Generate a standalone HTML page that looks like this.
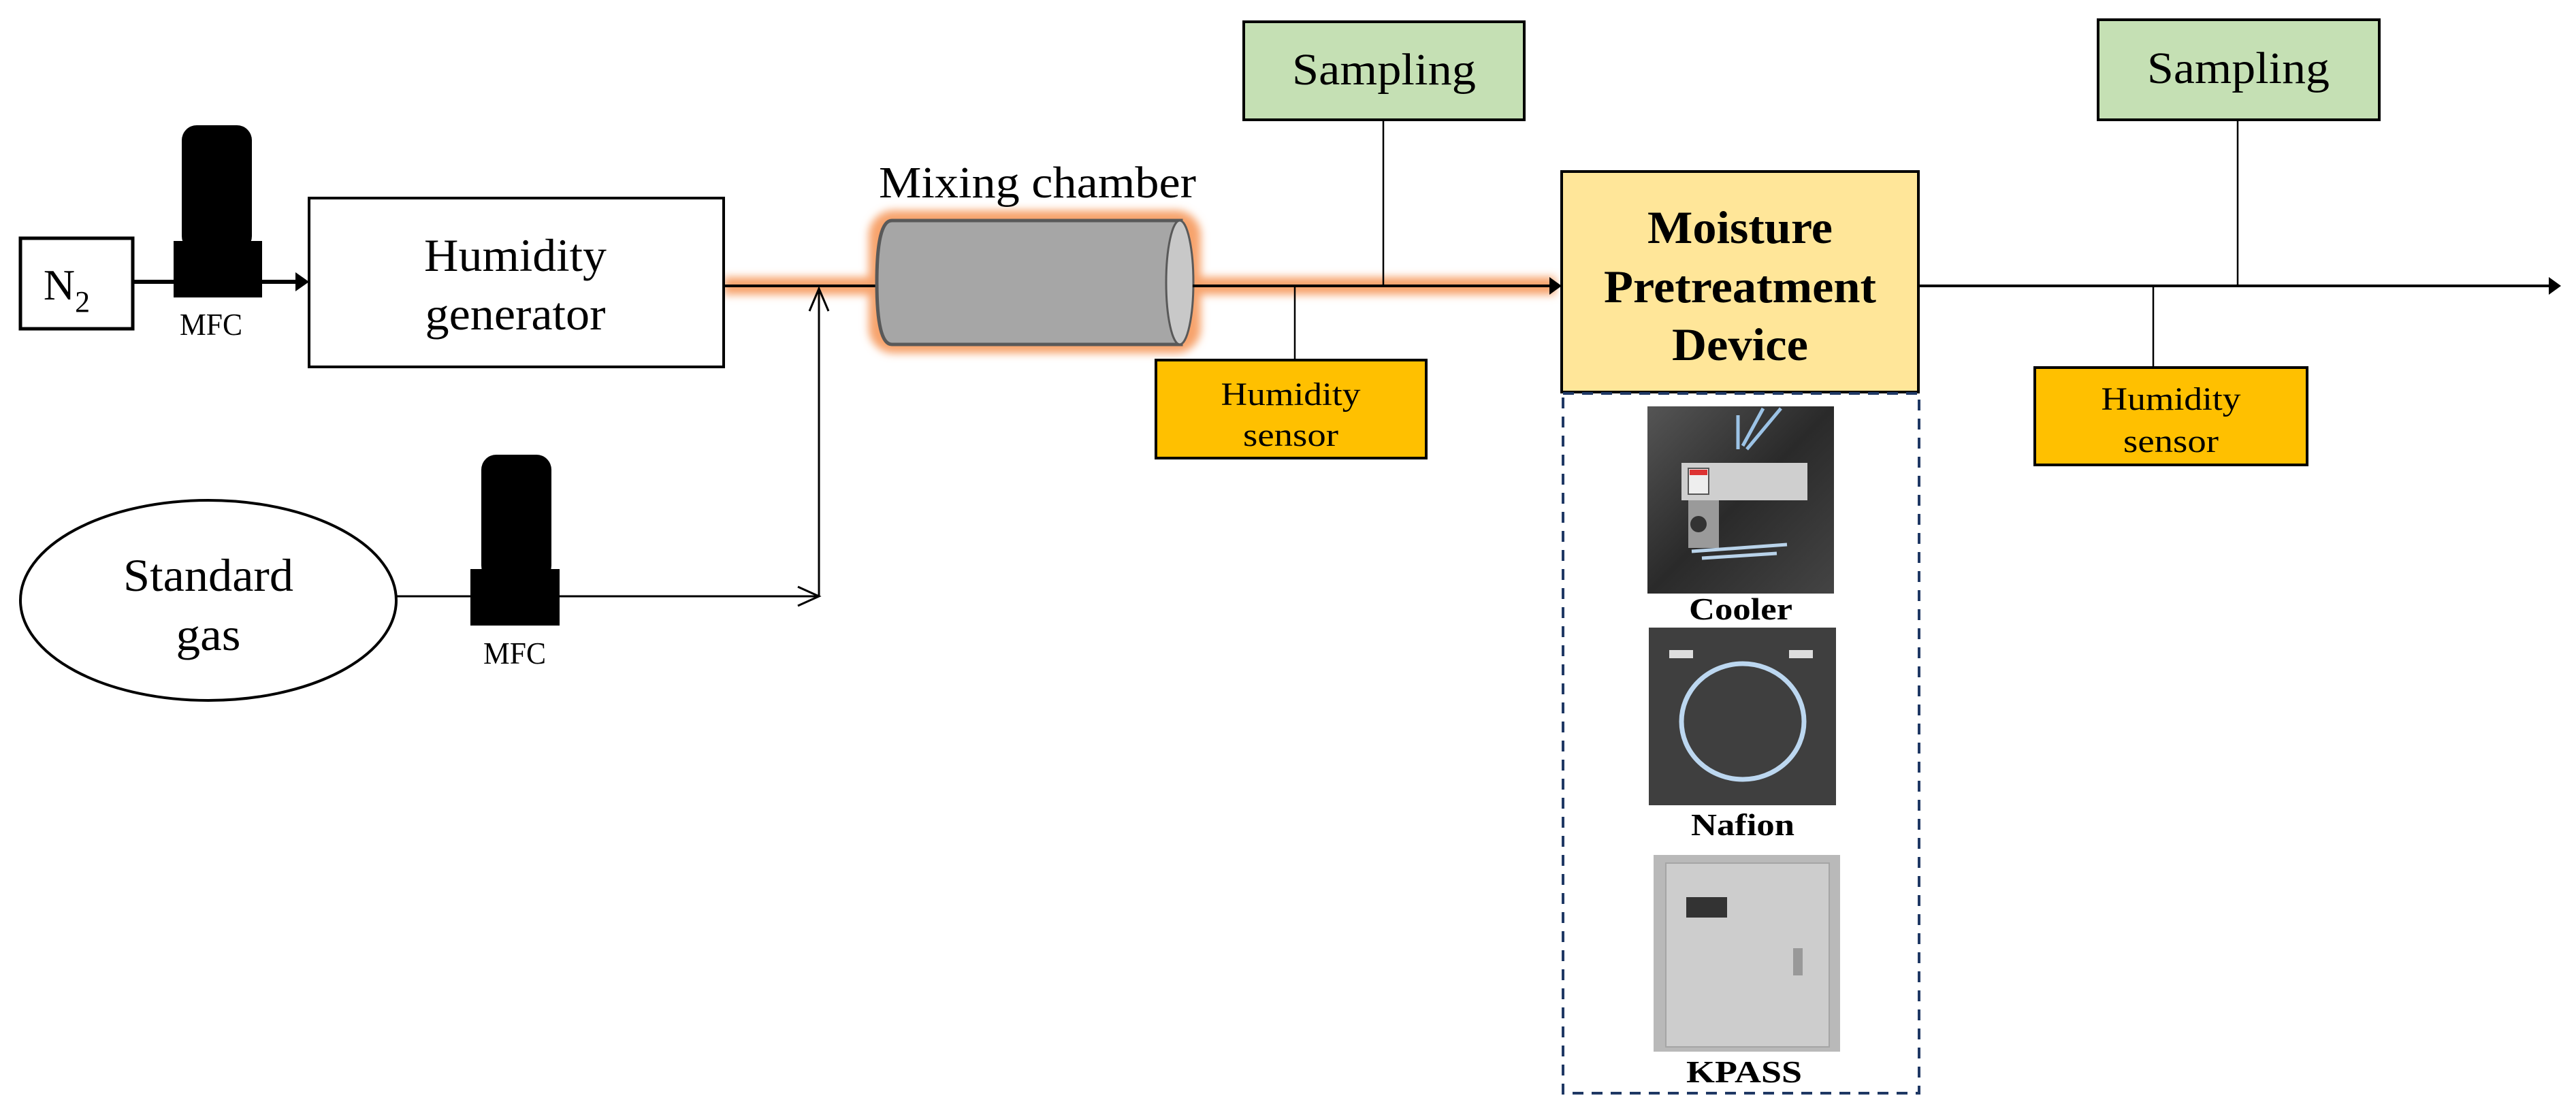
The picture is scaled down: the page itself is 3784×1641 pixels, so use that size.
<!DOCTYPE html>
<html><head><meta charset="utf-8"><style>html,body{margin:0;padding:0;background:#fff}svg{display:block}text{font-family:"Liberation Serif","Times New Roman",serif}</style></head>
<body>
<svg width="3784" height="1641" viewBox="0 0 3784 1641" xmlns="http://www.w3.org/2000/svg">
<defs>
<filter id="glow" x="-20%" y="-50%" width="140%" height="200%"><feGaussianBlur stdDeviation="6"/></filter>
<linearGradient id="ph1" x1="0" y1="0" x2="1" y2="1"><stop offset="0" stop-color="#555"/><stop offset="0.5" stop-color="#2a2a2a"/><stop offset="1" stop-color="#444"/></linearGradient>
</defs>
<rect width="3784" height="1641" fill="#fff"/>

<g filter="url(#glow)" fill="none" stroke="#f7a36c">
<line x1="1063" y1="420" x2="1290" y2="420" stroke-width="26"/>
<rect x="1283" y="316" width="474" height="196" rx="30" stroke-width="14" fill="#f7a36c"/>
<line x1="1750" y1="420" x2="2285" y2="420" stroke-width="26"/>
</g>

<rect x="30" y="350" width="165" height="133" fill="#fff" stroke="#000" stroke-width="5"/>
<text x="98" y="440" font-size="64" text-anchor="middle">N<tspan font-size="44" dy="18">2</tspan></text>

<rect x="267" y="184" width="103" height="185" rx="22" fill="#000"/>
<rect x="255" y="354" width="130" height="83" fill="#000"/>
<text x="310" y="492" font-size="46" text-anchor="middle" textLength="92" lengthAdjust="spacingAndGlyphs">MFC</text>
<line x1="195" y1="414" x2="440" y2="414" stroke="#000" stroke-width="6"/>
<polygon points="454,414 434,400 434,428" fill="#000"/>

<rect x="454" y="291" width="609" height="248" fill="#fff" stroke="#000" stroke-width="4"/>
<text x="757" y="398" font-size="68" text-anchor="middle" textLength="268" lengthAdjust="spacingAndGlyphs">Humidity</text>
<text x="757" y="484" font-size="68" text-anchor="middle" textLength="265" lengthAdjust="spacingAndGlyphs">generator</text>

<line x1="1063" y1="420" x2="1290" y2="420" stroke="#000" stroke-width="4"/>
<line x1="1203" y1="876" x2="1203" y2="424" stroke="#000" stroke-width="3"/>
<polyline points="1189,457 1203,424 1217,457" fill="none" stroke="#000" stroke-width="3"/>

<text x="1524" y="290" font-size="66" text-anchor="middle" textLength="466" lengthAdjust="spacingAndGlyphs">Mixing chamber</text>
<path d="M1310,324 L1735,324 L1735,506 L1310,506 Q1288,506 1288,415 Q1288,324 1310,324 Z" fill="#a6a6a6" stroke="#595959" stroke-width="5"/>
<ellipse cx="1733" cy="415" rx="20" ry="91" fill="#c8c8c8" stroke="#595959" stroke-width="3"/>

<line x1="1752" y1="420" x2="2280" y2="420" stroke="#000" stroke-width="4"/>
<polygon points="2294,420 2276,407 2276,433" fill="#000"/>

<rect x="1827" y="32" width="412" height="144" fill="#c5e0b4" stroke="#000" stroke-width="4"/>
<text x="2033" y="124" font-size="66" text-anchor="middle" textLength="270" lengthAdjust="spacingAndGlyphs">Sampling</text>
<line x1="2032" y1="176" x2="2032" y2="420" stroke="#000" stroke-width="2.5"/>

<line x1="1902" y1="420" x2="1902" y2="529" stroke="#000" stroke-width="2.5"/>
<rect x="1698" y="529" width="397" height="144" fill="#ffc000" stroke="#000" stroke-width="4"/>
<text x="1896" y="595" font-size="48" text-anchor="middle" textLength="205" lengthAdjust="spacingAndGlyphs">Humidity</text>
<text x="1896" y="655" font-size="48" text-anchor="middle" textLength="140" lengthAdjust="spacingAndGlyphs">sensor</text>

<rect x="2294" y="252" width="524" height="324" fill="#ffe699" stroke="#000" stroke-width="4"/>
<text x="2556" y="357" font-size="68" font-weight="bold" text-anchor="middle" textLength="272" lengthAdjust="spacingAndGlyphs">Moisture</text>
<text x="2556" y="444" font-size="68" font-weight="bold" text-anchor="middle" textLength="400" lengthAdjust="spacingAndGlyphs">Pretreatment</text>
<text x="2556" y="529" font-size="68" font-weight="bold" text-anchor="middle" textLength="200" lengthAdjust="spacingAndGlyphs">Device</text>

<rect x="2296" y="578" width="523" height="1028" fill="none" stroke="#1f3864" stroke-width="4" stroke-dasharray="16,12"/>

<rect x="2420" y="597" width="274" height="275" fill="url(#ph1)"/>
<rect x="2470" y="680" width="185" height="55" fill="#cfcfcf"/>
<rect x="2480" y="688" width="30" height="38" fill="#eee" stroke="#555" stroke-width="2"/>
<rect x="2482" y="690" width="26" height="8" fill="#d33"/>
<rect x="2480" y="735" width="45" height="70" fill="#9a9a9a"/>
<circle cx="2495" cy="770" r="12" fill="#333"/>
<path d="M2560,655 L2590,600 M2566,660 L2616,600 M2553,660 L2553,610" stroke="#9cc3e6" stroke-width="5" fill="none"/>
<path d="M2485,810 L2625,800 M2500,820 L2610,813" stroke="#b9d3ea" stroke-width="5" fill="none"/>
<text x="2557" y="910" font-size="46" font-weight="bold" text-anchor="middle" textLength="152" lengthAdjust="spacingAndGlyphs">Cooler</text>

<rect x="2422" y="922" width="275" height="261" fill="#3f3f3f"/>
<ellipse cx="2560" cy="1060" rx="90" ry="85" fill="none" stroke="#bcd7f0" stroke-width="7"/>
<rect x="2452" y="955" width="35" height="12" fill="#ddd"/>
<rect x="2628" y="955" width="35" height="12" fill="#ddd"/>
<text x="2560" y="1227" font-size="46" font-weight="bold" text-anchor="middle" textLength="152" lengthAdjust="spacingAndGlyphs">Nafion</text>

<rect x="2429" y="1256" width="274" height="289" fill="#b9b9b9"/>
<rect x="2447" y="1268" width="240" height="270" fill="#cdcdcd" stroke="#a5a5a5" stroke-width="2"/>
<rect x="2477" y="1318" width="60" height="30" fill="#333"/>
<rect x="2634" y="1393" width="14" height="40" fill="#999"/>
<text x="2562" y="1590" font-size="46" font-weight="bold" text-anchor="middle" textLength="170" lengthAdjust="spacingAndGlyphs">KPASS</text>

<line x1="2818" y1="420" x2="3748" y2="420" stroke="#000" stroke-width="4"/>
<polygon points="3762,420 3744,407 3744,433" fill="#000"/>

<rect x="3082" y="29" width="413" height="147" fill="#c5e0b4" stroke="#000" stroke-width="4"/>
<text x="3288" y="122" font-size="66" text-anchor="middle" textLength="268" lengthAdjust="spacingAndGlyphs">Sampling</text>
<line x1="3287" y1="176" x2="3287" y2="420" stroke="#000" stroke-width="2.5"/>

<line x1="3163" y1="420" x2="3163" y2="540" stroke="#000" stroke-width="2.5"/>
<rect x="2989" y="540" width="400" height="143" fill="#ffc000" stroke="#000" stroke-width="4"/>
<text x="3189" y="602" font-size="48" text-anchor="middle" textLength="205" lengthAdjust="spacingAndGlyphs">Humidity</text>
<text x="3189" y="664" font-size="48" text-anchor="middle" textLength="140" lengthAdjust="spacingAndGlyphs">sensor</text>

<ellipse cx="306" cy="882" rx="276" ry="147" fill="#fff" stroke="#000" stroke-width="4"/>
<text x="306" y="868" font-size="68" text-anchor="middle" textLength="250" lengthAdjust="spacingAndGlyphs">Standard</text>
<text x="306" y="955" font-size="68" text-anchor="middle" textLength="95" lengthAdjust="spacingAndGlyphs">gas</text>
<line x1="582" y1="876" x2="1203" y2="876" stroke="#000" stroke-width="3"/>
<polyline points="1172,862 1203,876 1172,890" fill="none" stroke="#000" stroke-width="3"/>

<rect x="707" y="668" width="103" height="185" rx="22" fill="#000"/>
<rect x="691" y="836" width="131" height="83" fill="#000"/>
<text x="756" y="975" font-size="46" text-anchor="middle" textLength="92" lengthAdjust="spacingAndGlyphs">MFC</text>
</svg>
</body></html>
